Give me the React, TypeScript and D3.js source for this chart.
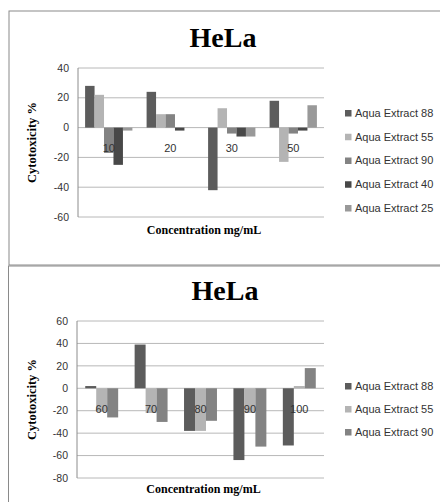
import * as d3 from "d3";
import React from "react";

// top panel
const topCategories = ["10", "20", "30", "50"];
const topSeries = ["Aqua Extract 88", "Aqua Extract 55", "Aqua Extract 90", "Aqua Extract 40", "Aqua Extract 25"];
const top88 = [28, 24, -42, 18];
const top55 = [22, 9, 13, -23];
const top90 = [-17, 9, -4, -4];
const top40 = [-25, -2, -6, -2];
const top25 = [-2, 0, -6, 15];
const topTicks = [-60, -40, -20, 0, 20, 40];

// bottom panel
const bottomCategories = ["60", "70", "80", "90", "100"];
const bottomSeries = ["Aqua Extract 88", "Aqua Extract 55", "Aqua Extract 90"];
const bottom88 = [2, 39, -38, -64, -51];
const bottom55 = [-21, -22, -38, -22, 2];
const bottom90 = [-26, -30, -29, -52, 18];
const bottomTicks = [-80, -60, -40, -20, 0, 20, 40, 60];

const topColors = ["#5c5c5c", "#b4b4b4", "#838383", "#484848", "#999999"];
const bottomColors = ["#5c5c5c", "#b4b4b4", "#838383"];

const SANS = "'Liberation Sans', Arial, sans-serif";
const SERIF = "'Liberation Serif', 'Times New Roman', serif";

interface PanelProps {
  categories: string[];
  series: string[];
  values: number[][];
  colors: string[];
  ticks: number[];
  layout: {
    titleX: number;
    titleY: number;
    plotTop: number;
    plotBottom: number;
    plotLeft: number;
    plotRight: number;
    legendX: number;
    legendY: number;
    legendStep: number;
    xTitleY: number;
    yTitleX: number;
  };
}

function Panel({ categories, series, values, colors, ticks, layout }: PanelProps) {
  const { plotTop, plotBottom, plotLeft, plotRight } = layout;
  const y = d3
    .scaleLinear()
    .domain([d3.min(ticks) as number, d3.max(ticks) as number])
    .range([plotBottom, plotTop]);
  const x0 = d3.scaleBand().domain(categories).range([plotLeft, plotRight]).padding(0);
  const bw = x0.bandwidth();
  // excel style: gap between groups = 1.5 bar widths
  const barW = bw / (series.length + 1.5);
  const x1 = d3
    .scaleBand()
    .domain(series)
    .range([barW * 0.75, bw - barW * 0.75])
    .padding(0);
  const zero = y(0);

  return (
    <g>
      <text
        x={layout.titleX}
        y={layout.titleY}
        textAnchor="middle"
        fontFamily={SERIF}
        fontWeight="bold"
        fontSize={28}
        fill="#000"
      >
        HeLa
      </text>
      {ticks.map((t) => (
        <g key={t}>
          <line x1={plotLeft} x2={plotRight} y1={y(t)} y2={y(t)} stroke="#b8b8b8" strokeWidth={1} />
          <text
            x={plotLeft - 9}
            y={y(t)}
            dy="0.35em"
            textAnchor="end"
            fontFamily={SANS}
            fontSize={10.5}
            fill="#333"
          >
            {t}
          </text>
        </g>
      ))}
      <line x1={plotLeft} x2={plotLeft} y1={plotTop} y2={plotBottom} stroke="#8c8c8c" strokeWidth={1} />
      {categories.map((c, ci) => (
        <g key={c} transform={`translate(${x0(c)},0)`}>
          {series.map((s, si) => {
            const v = values[si][ci];
            return (
              <rect
                key={s}
                x={x1(s)}
                y={Math.min(y(v), zero)}
                width={x1.bandwidth()}
                height={Math.abs(y(v) - zero)}
                fill={colors[si]}
              />
            );
          })}
        </g>
      ))}
      {categories.map((c) => (
        <text
          key={c}
          x={(x0(c) as number) + bw / 2}
          y={zero + 21}
          dy="0.35em"
          textAnchor="middle"
          fontFamily={SANS}
          fontSize={11}
          fill="#333"
        >
          {c}
        </text>
      ))}
      <text
        x={(plotLeft + plotRight) / 2 + 3}
        y={layout.xTitleY}
        textAnchor="middle"
        fontFamily={SERIF}
        fontWeight="bold"
        fontSize={12}
        fill="#000"
      >
        Concentration mg/mL
      </text>
      <text
        transform={`translate(${layout.yTitleX},${(plotTop + plotBottom) / 2}) rotate(-90)`}
        textAnchor="middle"
        dy="0.35em"
        fontFamily={SERIF}
        fontWeight="bold"
        fontSize={12.5}
        fill="#000"
      >
        Cytotoxicity %
      </text>
      {series.map((s, si) => (
        <g key={s} transform={`translate(${layout.legendX},${layout.legendY + si * layout.legendStep})`}>
          <rect x={0} y={-3} width={6.5} height={6.5} fill={colors[si]} />
          <text x={10} y={0} dy="0.35em" fontFamily={SANS} fontSize={11} fill="#333">
            {s}
          </text>
        </g>
      ))}
    </g>
  );
}

export default function App() {
  return (
    <svg width={440} height={502} style={{ position: "absolute", left: 0, top: 0, background: "#fff" }}>
      <rect x={9} y={11} width={440} height={254} fill="#fff" stroke="#8a8a8a" strokeWidth={1} />
      <rect x={8.5} y={266} width={440} height={250} fill="#fff" stroke="#8a8a8a" strokeWidth={1} />
      <Panel
        categories={topCategories}
        series={topSeries}
        values={[top88, top55, top90, top40, top25]}
        colors={topColors}
        ticks={topTicks}
        layout={{
          titleX: 223,
          titleY: 47,
          plotTop: 68,
          plotBottom: 217,
          plotLeft: 78,
          plotRight: 324,
          legendX: 345,
          legendY: 113,
          legendStep: 23.75,
          xTitleY: 234,
          yTitleX: 32,
        }}
      />
      <Panel
        categories={bottomCategories}
        series={bottomSeries}
        values={[bottom88, bottom55, bottom90]}
        colors={bottomColors}
        ticks={bottomTicks}
        layout={{
          titleX: 225,
          titleY: 300,
          plotTop: 321,
          plotBottom: 478,
          plotLeft: 77,
          plotRight: 324,
          legendX: 345,
          legendY: 386,
          legendStep: 23,
          xTitleY: 493,
          yTitleX: 32,
        }}
      />
    </svg>
  );
}
